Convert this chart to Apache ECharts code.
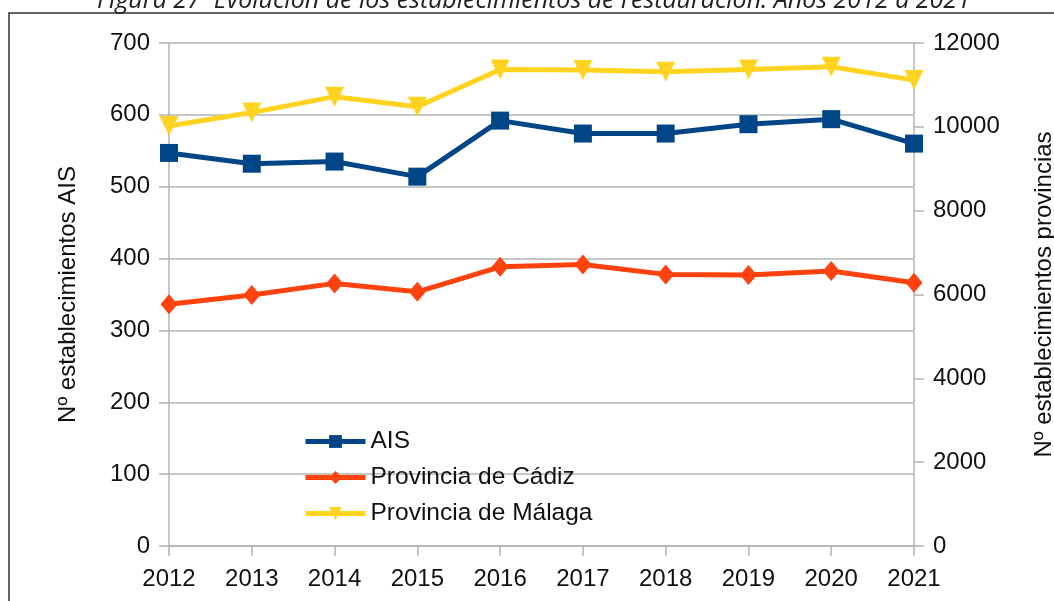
<!DOCTYPE html>
<html>
<head>
<meta charset="utf-8">
<script src="https://cdn.jsdelivr.net/npm/echarts@6/dist/echarts.min.js"></script>
<style>
html,body{margin:0;padding:0;background:#fff;}
#chart{width:1054px;height:601px;}
</style>
</head>
<body>
<div id="chart"></div>
<script>
// datos
var years = ['2012','2013','2014','2015','2016','2017','2018','2019','2020','2021'];
var ais = [547, 532, 535, 514, 592, 574, 574, 587, 594, 560];
var cadiz = [5770, 5990, 6265, 6065, 6660, 6715, 6480, 6465, 6560, 6280];
var malaga = [10020, 10340, 10720, 10480, 11370, 11355, 11315, 11370, 11435, 11115];

var FONT = '"Liberation Sans", Arial, sans-serif';
var gris = '#b3b3b3';

var dom = document.getElementById('chart');
var myChart = echarts.init(dom);

var option = {
    animation: false,
    textStyle: { fontFamily: FONT },
    graphic: [
        {
            type: 'rect',
            shape: { x: 9, y: 13, width: 1100, height: 700 },
            style: { fill: 'none', stroke: '#333', lineWidth: 1.5 },
            z: -1
        },
        {
            type: 'text',
            style: {
                x: 534, y: 13,
                text: 'Figura 27  Evolución de los establecimientos de restauración. Años 2012 a 2021',
                align: 'center', verticalAlign: 'bottom',
                font: 'italic 25px "Open Sans", sans-serif',
                fill: '#222'
            }
        }
    ],
    grid: { left: 169, right: 140, top: 43, bottom: 55, outerBoundsMode: 'none' },
    legend: {
        orient: 'vertical',
        left: 303,
        top: 429,
        padding: 0,
        itemWidth: 60,
        itemHeight: 16,
        itemGap: 11,
        lineStyle: { width: 5 },
        textStyle: { fontSize: 24.5, color: '#111', fontFamily: FONT },
        data: ['AIS', 'Provincia de Cádiz', 'Provincia de Málaga']
    },
    xAxis: {
        type: 'category',
        data: years,
        boundaryGap: false,
        axisLine: { lineStyle: { color: gris, width: 1.5 } },
        axisTick: { show: true, length: 10, lineStyle: { color: gris, width: 1.5 } },
        axisLabel: { fontSize: 24, color: '#111', margin: 21 }
    },
    yAxis: [
        {
            type: 'value',
            min: 0, max: 700, interval: 100,
            name: 'Nº establecimientos AIS',
            nameLocation: 'middle',
            nameGap: 89,
            nameTextStyle: { fontSize: 24, color: '#111' },
            axisLine: { show: true, lineStyle: { color: gris, width: 1.5 } },
            axisTick: { show: true, length: 10, lineStyle: { color: gris, width: 1.5 } },
            splitLine: { lineStyle: { color: gris, width: 1.5 } },
            axisLabel: { fontSize: 24, color: '#111', margin: 19 }
        },
        {
            type: 'value',
            position: 'right',
            min: 0, max: 12000, interval: 2000,
            name: 'Nº establecimientos provincias',
            nameLocation: 'middle',
            nameGap: 118,
            nameTextStyle: { fontSize: 24, color: '#111' },
            axisLine: { show: true, lineStyle: { color: gris, width: 1.5 } },
            axisTick: { show: true, length: 10, lineStyle: { color: gris, width: 1.5 } },
            splitLine: { show: false },
            axisLabel: {
                fontSize: 24, color: '#111', margin: 19,
                formatter: function (v) { return String(v); }
            }
        }
    ],
    series: [
        {
            name: 'AIS',
            type: 'line',
            yAxisIndex: 0,
            data: ais,
            symbol: 'rect',
            symbolSize: 18,
            lineStyle: { color: '#004586', width: 5 },
            itemStyle: { color: '#004586' },
            z: 4
        },
        {
            name: 'Provincia de Cádiz',
            type: 'line',
            yAxisIndex: 1,
            data: cadiz,
            symbol: 'diamond',
            symbolSize: [17, 20],
            lineStyle: { color: '#ff420e', width: 5 },
            itemStyle: { color: '#ff420e' },
            z: 3
        },
        {
            name: 'Provincia de Málaga',
            type: 'line',
            yAxisIndex: 1,
            data: malaga,
            symbol: 'triangle',
            symbolRotate: 180,
            symbolSize: [19, 20],
            lineStyle: { color: '#ffd320', width: 5 },
            itemStyle: { color: '#ffd320' },
            z: 2
        }
    ]
};
myChart.setOption(option, true);
</script>
</body>
</html>
